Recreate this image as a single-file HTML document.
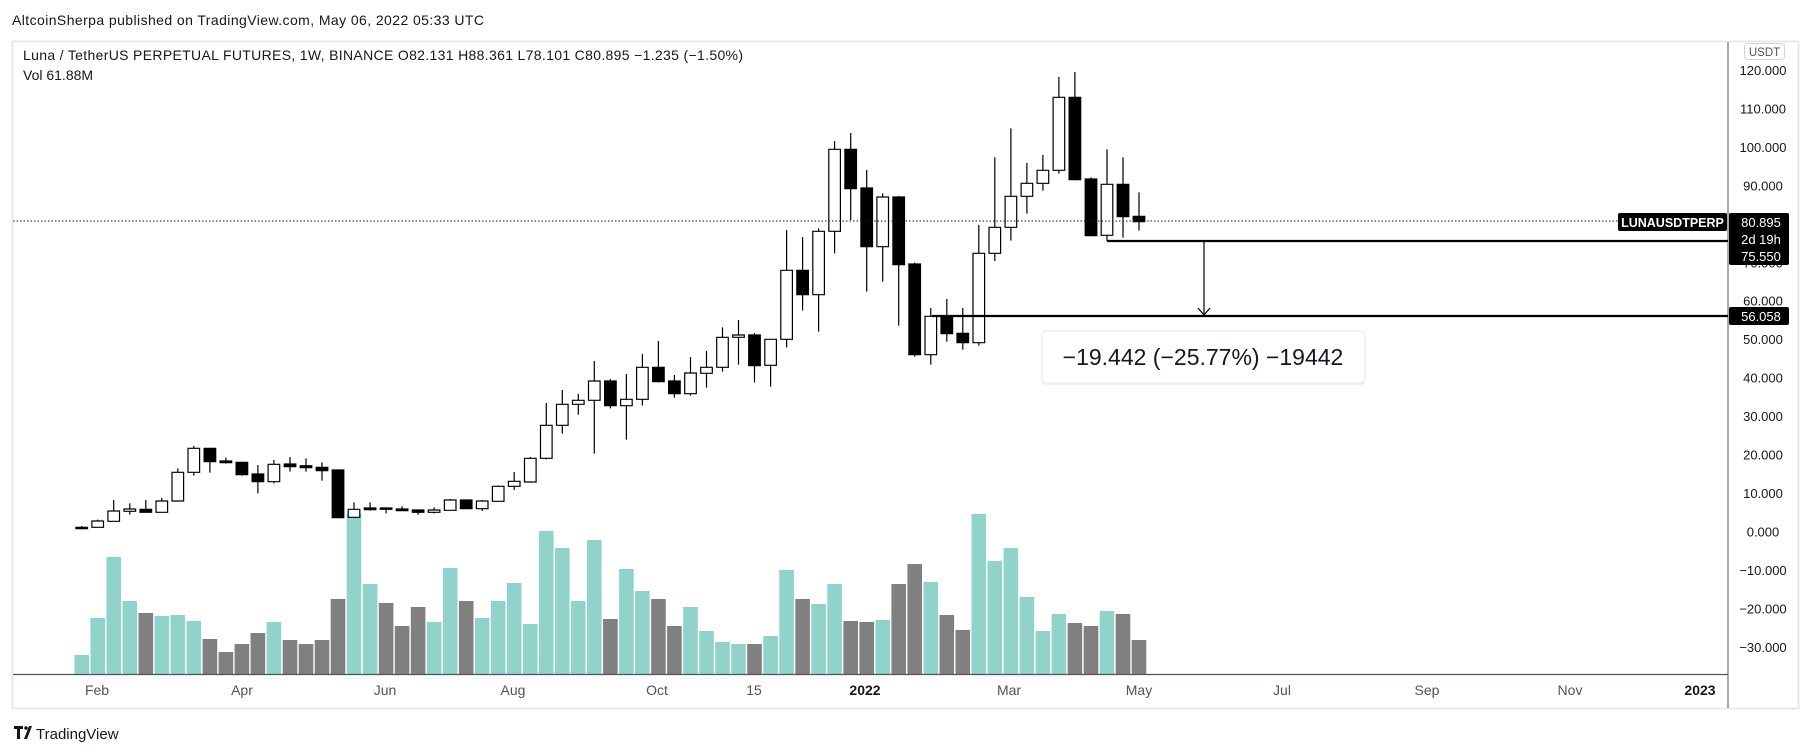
<!DOCTYPE html>
<html><head><meta charset="utf-8"><style>
html,body{margin:0;padding:0;background:#fff;width:1813px;height:753px;overflow:hidden}
svg{display:block}
text{font-family:"Liberation Sans",sans-serif}
.w{fill:#fff;stroke:#000;stroke-width:1.2;vector-effect:non-scaling-stroke}
.b{fill:#000;stroke:#000;stroke-width:1.2;vector-effect:non-scaling-stroke}
.k{fill:none;stroke:#000;stroke-width:1.2;vector-effect:non-scaling-stroke}
.t{fill:#91d2cb}.g{fill:#808080}
</style></head><body>
<svg width="1813" height="753" viewBox="0 0 1813 753" xmlns="http://www.w3.org/2000/svg">
<rect width="1813" height="753" fill="#fff"/>
<text x="12" y="25" font-size="14" fill="#131722" textLength="472">AltcoinSherpa published on TradingView.com, May 06, 2022 05:33 UTC</text>
<rect x="12.5" y="41.5" width="1786" height="667" fill="#fff" stroke="#e9e9ec" stroke-width="2"/>
<text x="23" y="60" font-size="14" fill="#131722" textLength="720">Luna / TetherUS PERPETUAL FUTURES, 1W, BINANCE  O82.131  H88.361  L78.101  C80.895  −1.235 (−1.50%)</text>
<text x="23" y="80" font-size="14" fill="#131722">Vol  61.88M</text>
<line x1="1728" y1="42" x2="1728" y2="708" stroke="#50535e" stroke-width="1"/>

<!-- volume group A -->
<g transform="translate(0,420) scale(1,0.333333)">
<rect class="t" x="74.4" y="705" width="14.6" height="57"/>
<rect class="t" x="90.4" y="594" width="14.6" height="168"/>
<rect class="t" x="106.4" y="411" width="14.6" height="351"/>
<rect class="t" x="122.5" y="543" width="14.6" height="219"/>
<rect class="g" x="138.5" y="579" width="14.6" height="183"/>
<rect class="t" x="154.5" y="588" width="14.6" height="174"/>
<rect class="t" x="170.5" y="585" width="14.6" height="177"/>
<rect class="t" x="186.5" y="603" width="14.6" height="159"/>
<rect class="g" x="202.6" y="657" width="14.6" height="105"/>
<rect class="g" x="218.6" y="696" width="14.6" height="66"/>
<rect class="g" x="234.6" y="672" width="14.6" height="90"/>
<rect class="g" x="250.6" y="639" width="14.6" height="123"/>
<rect class="t" x="266.6" y="606" width="14.6" height="156"/>
<rect class="g" x="282.7" y="660" width="14.6" height="102"/>
<rect class="g" x="298.7" y="672" width="14.6" height="90"/>
<rect class="g" x="314.7" y="660" width="14.6" height="102"/>
<rect class="g" x="330.7" y="537" width="14.6" height="225"/>
<rect class="t" x="346.7" y="280" width="14.6" height="482"/>
<rect class="t" x="362.8" y="492" width="14.6" height="270"/>
<rect class="g" x="378.8" y="549" width="14.6" height="213"/>
<rect class="g" x="394.8" y="618" width="14.6" height="144"/>
<rect class="g" x="410.8" y="561" width="14.6" height="201"/>
<rect class="t" x="426.8" y="606" width="14.6" height="156"/>
<rect class="t" x="442.9" y="444" width="14.6" height="318"/>
<rect class="g" x="458.9" y="543" width="14.6" height="219"/>
<rect class="t" x="474.9" y="594" width="14.6" height="168"/>
<rect class="t" x="490.9" y="543" width="14.6" height="219"/>
<rect class="t" x="506.9" y="489" width="14.6" height="273"/>
<rect class="t" x="523.0" y="612" width="14.6" height="150"/>
</g>
<!-- volume group B -->
<g transform="translate(0,300) scale(1,0.333333)">
<rect class="t" x="539.0" y="693" width="14.6" height="429"/>
<rect class="t" x="555.0" y="744" width="14.6" height="378"/>
<rect class="t" x="571.0" y="903" width="14.6" height="219"/>
<rect class="t" x="587.0" y="720" width="14.6" height="402"/>
<rect class="g" x="603.1" y="957" width="14.6" height="165"/>
<rect class="t" x="619.1" y="807" width="14.6" height="315"/>
<rect class="t" x="635.1" y="873" width="14.6" height="249"/>
<rect class="g" x="651.1" y="897" width="14.6" height="225"/>
<rect class="g" x="667.1" y="978" width="14.6" height="144"/>
<rect class="t" x="683.2" y="921" width="14.6" height="201"/>
<rect class="t" x="699.2" y="993" width="14.6" height="129"/>
<rect class="t" x="715.2" y="1026" width="14.6" height="96"/>
<rect class="t" x="731.2" y="1032" width="14.6" height="90"/>
<rect class="g" x="747.2" y="1032" width="14.6" height="90"/>
<rect class="t" x="763.3" y="1008" width="14.6" height="114"/>
<rect class="t" x="779.3" y="810" width="14.6" height="312"/>
<rect class="g" x="795.3" y="897" width="14.6" height="225"/>
<rect class="t" x="811.3" y="912" width="14.6" height="210"/>
<rect class="t" x="827.3" y="852" width="14.6" height="270"/>
<rect class="g" x="843.4" y="963" width="14.6" height="159"/>
<rect class="g" x="859.4" y="966" width="14.6" height="156"/>
<rect class="t" x="875.4" y="960" width="14.6" height="162"/>
<rect class="g" x="891.4" y="852" width="14.6" height="270"/>
<rect class="g" x="907.4" y="792" width="14.6" height="330"/>
<rect class="t" x="923.5" y="846" width="14.6" height="276"/>
<rect class="g" x="939.5" y="945" width="14.6" height="177"/>
<rect class="g" x="955.5" y="990" width="14.6" height="132"/>
<rect class="t" x="971.5" y="642" width="14.6" height="480"/>
<rect class="t" x="987.5" y="783" width="14.6" height="339"/>
</g>
<g>
<rect class="t" x="1003.6" y="548" width="14.6" height="126"/>
<rect class="t" x="1019.6" y="597" width="14.6" height="77"/>
<rect class="t" x="1035.6" y="631" width="14.6" height="43"/>
<rect class="t" x="1051.6" y="614" width="14.6" height="60"/>
<rect class="g" x="1067.6" y="623" width="14.6" height="51"/>
<rect class="g" x="1083.7" y="626" width="14.6" height="48"/>
<rect class="t" x="1099.7" y="611" width="14.6" height="63"/>
<rect class="g" x="1115.7" y="614" width="14.6" height="60"/>
<rect class="g" x="1131.7" y="640" width="14.6" height="34"/>
</g>
<line x1="13" y1="674.5" x2="1728" y2="674.5" stroke="#50535e" stroke-width="1.2"/>

<!-- candles group A -->
<g transform="translate(0,420) scale(1,0.333333)">
<path class="k" d="M81.7 318V328M97.7 299V322M113.7 240V304M129.8 250V284M145.8 240V277M161.8 234V277M177.8 145V243M193.8 78V167M209.9 85V158M225.9 113V131M241.9 125V167M257.9 135V220M273.9 120V190M290 111V155M306 115V155M322 127V182M338 150V293M354 247V292M370.1 247V272M386.1 262V280M402.1 259V273M418.1 270V284M434.1 262V280M450.2 237V271M466.2 240V266M482.2 240V273M498.2 197V244M514.2 156V210M530.3 111V188"/>
<rect class="b" x="75.9" y="322" width="11.6" height="4"/>
<rect class="w" x="91.9" y="303" width="11.6" height="19"/>
<rect class="w" x="107.9" y="273" width="11.6" height="31"/>
<rect class="w" x="124.0" y="267" width="11.6" height="7"/>
<rect class="b" x="140.0" y="268" width="11.6" height="9"/>
<rect class="w" x="156.0" y="243" width="11.6" height="34"/>
<rect class="w" x="172.0" y="157" width="11.6" height="86"/>
<rect class="w" x="188.0" y="85" width="11.6" height="72"/>
<rect class="b" x="204.1" y="85" width="11.6" height="40"/>
<rect class="b" x="220.1" y="123" width="11.6" height="5"/>
<rect class="b" x="236.1" y="127" width="11.6" height="37"/>
<rect class="b" x="252.1" y="162" width="11.6" height="23"/>
<rect class="w" x="268.1" y="133" width="11.6" height="52"/>
<rect class="b" x="284.2" y="132" width="11.6" height="8"/>
<rect class="b" x="300.2" y="137" width="11.6" height="6"/>
<rect class="b" x="316.2" y="142" width="11.6" height="10"/>
<rect class="b" x="332.2" y="150" width="11.6" height="143"/>
<rect class="w" x="348.2" y="268" width="11.6" height="24"/>
<rect class="b" x="364.3" y="264" width="11.6" height="5"/>
<rect class="b" x="380.3" y="264" width="11.6" height="4"/>
<rect class="b" x="396.3" y="267" width="11.6" height="5"/>
<rect class="b" x="412.3" y="270" width="11.6" height="7"/>
<rect class="w" x="428.3" y="270" width="11.6" height="7"/>
<rect class="w" x="444.4" y="240" width="11.6" height="31"/>
<rect class="b" x="460.4" y="240" width="11.6" height="26"/>
<rect class="w" x="476.4" y="243" width="11.6" height="23"/>
<rect class="w" x="492.4" y="199" width="11.6" height="45"/>
<rect class="w" x="508.4" y="184" width="11.6" height="15"/>
<rect class="w" x="524.5" y="115" width="11.6" height="71"/>
</g>
<!-- candles group B -->
<g transform="translate(0,300) scale(1,0.333333)">
<path class="k" d="M546.3 309V478M562.3 270V401M578.3 282V344M594.3 183V461M610.4 237V325M626.4 222V419M642.4 162V317M658.4 123V247M674.4 225V293M690.5 171V287M706.5 153V263M722.5 82V215M738.5 60V194M754.5 99V247"/>
<rect class="w" x="540.5" y="376" width="11.6" height="99"/>
<rect class="w" x="556.5" y="313" width="11.6" height="63"/>
<rect class="w" x="572.5" y="301" width="11.6" height="12"/>
<rect class="w" x="588.5" y="243" width="11.6" height="58"/>
<rect class="b" x="604.6" y="243" width="11.6" height="74"/>
<rect class="w" x="620.6" y="298" width="11.6" height="19"/>
<rect class="w" x="636.6" y="202" width="11.6" height="96"/>
<rect class="b" x="652.6" y="202" width="11.6" height="43"/>
<rect class="b" x="668.6" y="243" width="11.6" height="38"/>
<rect class="w" x="684.7" y="219" width="11.6" height="62"/>
<rect class="w" x="700.7" y="202" width="11.6" height="18"/>
<rect class="w" x="716.7" y="112" width="11.6" height="90"/>
<rect class="w" x="732.7" y="105" width="11.6" height="7"/>
<rect class="b" x="748.7" y="105" width="11.6" height="92"/>
</g>
<!-- candles group C -->
<g transform="translate(0,60) scale(1,0.333333)">
<path class="k" d="M770.6 838V980M786.6 510V862M802.6 531V752M818.6 505V815M834.6 243V580M850.7 219V480M866.7 330V695M882.7 400V665M898.7 408V797M914.7 608V890M930.8 744V914M946.8 717V845M962.8 744V869M978.8 495V857M994.8 292V603M1010.9 205V542M1026.9 309V461M1042.9 285V392M1058.9 51V341M1074.9 36V361M1091 352V527M1107 268V543M1123 292V533M1139 397V512"/>
<rect class="w" x="764.8" y="838" width="11.6" height="78"/>
<rect class="w" x="780.8" y="631" width="11.6" height="207"/>
<rect class="b" x="796.8" y="631" width="11.6" height="73"/>
<rect class="w" x="812.8" y="514" width="11.6" height="190"/>
<rect class="w" x="828.8" y="268" width="11.6" height="246"/>
<rect class="b" x="844.9" y="268" width="11.6" height="118"/>
<rect class="b" x="860.9" y="384" width="11.6" height="176"/>
<rect class="w" x="876.9" y="411" width="11.6" height="149"/>
<rect class="b" x="892.9" y="411" width="11.6" height="203"/>
<rect class="b" x="908.9" y="612" width="11.6" height="272"/>
<rect class="w" x="925.0" y="769" width="11.6" height="115"/>
<rect class="b" x="941.0" y="768" width="11.6" height="53"/>
<rect class="b" x="957.0" y="820" width="11.6" height="28"/>
<rect class="w" x="973.0" y="580" width="11.6" height="268"/>
<rect class="w" x="989.0" y="502" width="11.6" height="78"/>
<rect class="w" x="1005.1" y="409" width="11.6" height="93"/>
<rect class="w" x="1021.1" y="370" width="11.6" height="39"/>
<rect class="w" x="1037.1" y="331" width="11.6" height="39"/>
<rect class="w" x="1053.1" y="112" width="11.6" height="219"/>
<rect class="b" x="1069.1" y="112" width="11.6" height="247"/>
<rect class="b" x="1085.2" y="357" width="11.6" height="170"/>
<rect class="w" x="1101.2" y="373" width="11.6" height="153"/>
<rect class="b" x="1117.2" y="373" width="11.6" height="97"/>
<rect class="b" x="1133.2" y="469" width="11.6" height="16"/>
</g>

<line x1="13" y1="221" x2="1618" y2="221" stroke="#131722" stroke-width="1" stroke-dasharray="1.5,2"/>
<line x1="1107" y1="241" x2="1728" y2="241" stroke="#000" stroke-width="2.2"/>
<line x1="932" y1="316" x2="1728" y2="316" stroke="#000" stroke-width="2.2"/>
<line x1="1204" y1="241" x2="1204" y2="316" stroke="#000" stroke-width="1.2"/>
<line x1="1189" y1="241" x2="1219" y2="241" stroke="#000" stroke-width="1.2"/>
<line x1="1189" y1="316" x2="1219" y2="316" stroke="#000" stroke-width="1.2"/>
<polyline points="1198,308 1204,315 1210,308" fill="none" stroke="#000" stroke-width="1.2"/>
<rect x="1042" y="331" width="323" height="52" rx="4" fill="#fff" stroke="#eceef2" stroke-width="1.5"/>
<rect x="1043" y="382" width="321" height="3" fill="#eef0f3"/>
<text x="1203" y="365" font-size="23" fill="#131722" text-anchor="middle">−19.442 (−25.77%) −19442</text>

<g font-size="13" fill="#131722" text-anchor="middle">
<text x="1763" y="75">120.000</text><text x="1763" y="113.5">110.000</text><text x="1763" y="152">100.000</text>
<text x="1763" y="190.4">90.000</text><text x="1763" y="228.9">80.000</text><text x="1763" y="267.4">70.000</text>
<text x="1763" y="305.7">60.000</text><text x="1763" y="344.2">50.000</text><text x="1763" y="382.6">40.000</text>
<text x="1763" y="421.1">30.000</text><text x="1763" y="459.5">20.000</text><text x="1763" y="498">10.000</text>
<text x="1763" y="536.4">0.000</text><text x="1763" y="574.9">−10.000</text><text x="1763" y="613.3">−20.000</text>
<text x="1763" y="651.8">−30.000</text>
</g>
<rect x="1744.5" y="43.5" width="40" height="16" rx="3" fill="#fff" stroke="#d1d4dc"/>
<text x="1764.5" y="56" font-size="11.5" fill="#50535e" text-anchor="middle">USDT</text>
<rect x="1618" y="213" width="109" height="18" rx="2" fill="#000"/>
<text x="1672.5" y="227" font-size="12.5" fill="#fff" text-anchor="middle" font-weight="bold">LUNAUSDTPERP</text>
<rect x="1729" y="213" width="60" height="52" rx="2" fill="#000"/>
<text x="1761" y="227" font-size="13" fill="#fff" text-anchor="middle">80.895</text>
<text x="1761" y="244" font-size="13" fill="#fff" text-anchor="middle">2d 19h</text>
<text x="1761" y="261" font-size="13" fill="#fff" text-anchor="middle">75.550</text>
<rect x="1729" y="307" width="60" height="18" rx="2" fill="#000"/>
<text x="1761" y="321" font-size="13" fill="#fff" text-anchor="middle">56.058</text>
<g font-size="14" fill="#50535e" text-anchor="middle">
<text x="97" y="695">Feb</text><text x="242" y="695">Apr</text><text x="385" y="695">Jun</text>
<text x="513" y="695">Aug</text><text x="657" y="695">Oct</text><text x="754" y="695">15</text>
<text x="865" y="695" font-weight="bold" fill="#131722">2022</text><text x="1009" y="695">Mar</text>
<text x="1139" y="695">May</text><text x="1282" y="695">Jul</text><text x="1427" y="695">Sep</text>
<text x="1570" y="695">Nov</text><text x="1700" y="695" font-weight="bold" fill="#131722">2023</text>
</g>
<g transform="translate(14,724)">
<path d="M0 2h9v3H6v10H3V5H0z M10 15l5-13h3l-5 13z" fill="#131722"/>
<circle cx="12" cy="4" r="1.8" fill="#131722"/>
</g>
<text x="36" y="739" font-size="15" fill="#131722">TradingView</text>
</svg>
</body></html>
